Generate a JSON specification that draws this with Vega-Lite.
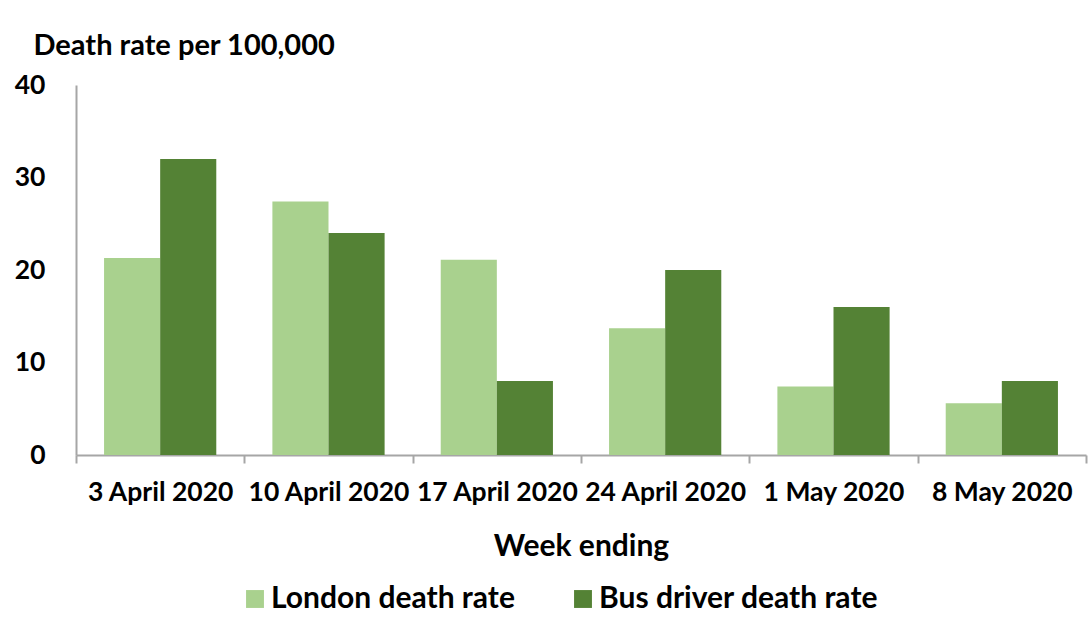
{
  "$schema": "https://vega.github.io/schema/vega-lite/v6.json",
  "width": 1010,
  "height": 370,
  "autosize": {"type": "none"},
  "padding": {"left": 76, "top": 85, "right": 5, "bottom": 182},
  "background": "white",
  "config": {
    "view": {"stroke": null},
    "font": "Lato",
    "axis": {"labelFont": "Lato", "titleFont": "Lato", "labelFontWeight": "bold", "titleFontWeight": "bold", "labelColor": "black", "titleColor": "black", "grid": false, "domainColor": "#a6a6a6", "tickColor": "#a6a6a6", "domainWidth": 2, "tickWidth": 2},
    "legend": {"labelFont": "Lato", "labelFontWeight": "bold", "labelColor": "black"}
  },
  "data": {
    "values": [
      {"week": "3 April 2020", "series": "London death rate", "rate": 21.3},
      {"week": "3 April 2020", "series": "Bus driver death rate", "rate": 32},
      {"week": "10 April 2020", "series": "London death rate", "rate": 27.4},
      {"week": "10 April 2020", "series": "Bus driver death rate", "rate": 24},
      {"week": "17 April 2020", "series": "London death rate", "rate": 21.1},
      {"week": "17 April 2020", "series": "Bus driver death rate", "rate": 8},
      {"week": "24 April 2020", "series": "London death rate", "rate": 13.7},
      {"week": "24 April 2020", "series": "Bus driver death rate", "rate": 20},
      {"week": "1 May 2020", "series": "London death rate", "rate": 7.4},
      {"week": "1 May 2020", "series": "Bus driver death rate", "rate": 16},
      {"week": "8 May 2020", "series": "London death rate", "rate": 5.6},
      {"week": "8 May 2020", "series": "Bus driver death rate", "rate": 8}
    ]
  },
  "mark": {"type": "bar"},
  "encoding": {
    "x": {
      "field": "week", "type": "nominal", "sort": null,
      "scale": {"paddingInner": 0, "paddingOuter": 0},
      "axis": {"title": "Week ending", "labelAngle": 0, "labelFontSize": 26.5, "titleFontSize": 30, "tickBand": "extent", "tickSize": 8, "labelPadding": 16, "titlePadding": 26, "labelLimit": 200}
    },
    "xOffset": {"field": "series", "type": "nominal", "sort": ["London death rate", "Bus driver death rate"], "scale": {"paddingInner": 0, "paddingOuter": 0.5}},
    "y": {
      "field": "rate", "type": "quantitative",
      "scale": {"domain": [0, 40]},
      "axis": {"values": [0, 10, 20, 30, 40], "ticks": false, "labelFontSize": 26.5, "labelPadding": 31, "title": "Death rate per 100,000", "titleFontSize": 29, "titleAngle": 0, "titleAlign": "left", "titleBaseline": "middle", "titleX": -43, "titleY": -40}
    },
    "color": {
      "field": "series", "type": "nominal",
      "sort": ["London death rate", "Bus driver death rate"],
      "scale": {"domain": ["London death rate", "Bus driver death rate"], "range": ["#a9d18e", "#548235"]},
      "legend": {"title": null, "orient": "none", "direction": "horizontal", "legendX": 164, "legendY": 499, "labelFontSize": 30, "symbolType": "square", "symbolSize": 320, "symbolStrokeWidth": 0, "symbolOpacity": 1, "columnPadding": 53, "labelOffset": 1, "labelLimit": 400}
    }
  }
}
